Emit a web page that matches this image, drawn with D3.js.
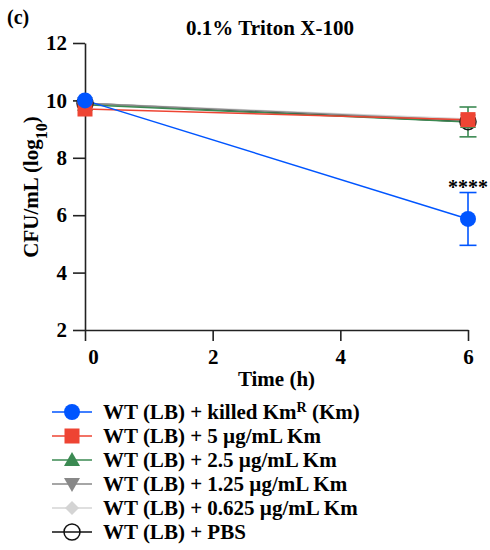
<!DOCTYPE html>
<html><head><meta charset="utf-8">
<script src="https://cdn.jsdelivr.net/npm/d3@7"></script>
<style>
body{margin:0;background:#fff;}
text{font-family:"Liberation Serif","Times New Roman",serif;font-weight:bold;fill:#000;}
</style></head>
<body><svg id="c" width="490" height="550"></svg>
<script>
const times = [0, 6];
const seriesNames = ["WT (LB) + killed KmR (Km)", "WT (LB) + 5 µg/mL Km", "WT (LB) + 2.5 µg/mL Km", "WT (LB) + 1.25 µg/mL Km", "WT (LB) + 0.625 µg/mL Km", "WT (LB) + PBS"];
const killedMean = [10.0, 5.87];
const killedErr = [0, 0.92];
const km5Mean = [9.7, 9.33];
const km5Err = [0, 0];
const km25Mean = [9.85, 9.25];
const km25Err = [0, 0.52];
const km125Mean = [9.9, 9.3];
const km125Err = [0, 0];
const km0625Mean = [9.9, 9.35];
const km0625Err = [0, 0];
const pbsMean = [9.9, 9.26];
const pbsErr = [0, 0];
const xTicks = [0, 2, 4, 6];
const yTicks = [2, 4, 6, 8, 10, 12];

const series = [
  {name: seriesNames[0], mean: killedMean, err: killedErr, color: "#0055ff", shape: "circle", fill: "#0055ff"},
  {name: seriesNames[1], mean: km5Mean, err: km5Err, color: "#ee4433", shape: "square", fill: "#ee4433"},
  {name: seriesNames[2], mean: km25Mean, err: km25Err, color: "#3b8a52", shape: "triangle", fill: "#3b8a52"},
  {name: seriesNames[3], mean: km125Mean, err: km125Err, color: "#888888", shape: "triangleDown", fill: "#888888"},
  {name: seriesNames[4], mean: km0625Mean, err: km0625Err, color: "#d4d4d4", shape: "diamond", fill: "#d4d4d4"},
  {name: seriesNames[5], mean: pbsMean, err: pbsErr, color: "#111111", shape: "open", fill: "none"}
];

const svg = d3.select("#c");
const x = d3.scaleLinear().domain([0, 6]).range([85, 468]);
const y = d3.scaleLinear().domain([2, 12]).range([330, 43]);

function marker(g, shape, color, fill) {
  if (shape === "circle") g.append("circle").attr("r", 8).attr("fill", fill).attr("stroke", "none");
  else if (shape === "open") g.append("circle").attr("r", 8).attr("fill", "none").attr("stroke", color).attr("stroke-width", 1.5);
  else if (shape === "square") g.append("rect").attr("x", -7.5).attr("y", -7.5).attr("width", 15).attr("height", 15).attr("fill", fill);
  else if (shape === "triangle") g.append("path").attr("d", "M0,-8L8,6L-8,6Z").attr("fill", fill);
  else if (shape === "triangleDown") g.append("path").attr("d", "M0,8L8,-6L-8,-6Z").attr("fill", fill);
  else if (shape === "diamond") g.append("path").attr("d", "M0,-7L7,0L0,7L-7,0Z").attr("fill", fill);
}

// axes
const xAxis = d3.axisBottom(x).tickValues(xTicks).tickFormat(d3.format("d")).tickSize(11).tickSizeOuter(0).tickPadding(8);
const gx = svg.append("g").attr("transform", "translate(0,330)").call(xAxis);
const yAxis = d3.axisLeft(y).tickValues(yTicks).tickFormat(d3.format("d")).tickSize(12).tickSizeOuter(0).tickPadding(6);
const gy = svg.append("g").attr("transform", "translate(85,0)").call(yAxis);
[gx, gy].forEach(g => {
  g.selectAll("path,line").attr("stroke", "#222").attr("stroke-width", 1.6);
  g.selectAll("text").style("font-size", "21px").style("font-family", "Liberation Serif, serif").style("font-weight", "bold").attr("fill", "#000");
});
gx.selectAll(".tick text").filter(d => d === 0).attr("dx", 8);

// series drawn back to front
const line = d3.line().x((d, i) => x(times[i])).y(d => y(d));
const drawOrder = series.slice().reverse();
drawOrder.forEach(s => {
  svg.append("path").datum(s.mean).attr("d", line).attr("fill", "none").attr("stroke", s.color).attr("stroke-width", 1.5);
});
drawOrder.forEach(s => {
  s.mean.forEach((m, i) => {
    const e = s.err[i];
    if (e > 0) {
      const cx = x(times[i]);
      const eg = svg.append("g").attr("stroke", s.color).attr("stroke-width", 1.6);
      eg.append("line").attr("x1", cx).attr("x2", cx).attr("y1", y(m + e)).attr("y2", y(m - e));
      eg.append("line").attr("x1", cx - 8.5).attr("x2", cx + 8.5).attr("y1", y(m + e)).attr("y2", y(m + e));
      eg.append("line").attr("x1", cx - 8.5).attr("x2", cx + 8.5).attr("y1", y(m - e)).attr("y2", y(m - e));
    }
  });
});
drawOrder.forEach(s => {
  s.mean.forEach((m, i) => {
    const g = svg.append("g").attr("transform", `translate(${x(times[i])},${y(m)})`);
    marker(g, s.shape, s.color, s.fill);
  });
});

// significance
svg.append("text").attr("x", x(6)).attr("y", y(killedMean[1] + killedErr[1]) + 1).attr("text-anchor", "middle").style("font-size", "20px").text("****");

// titles
svg.append("text").attr("x", 7).attr("y", 24).style("font-size", "20px").text("(c)");
svg.append("text").attr("x", 270).attr("y", 35).attr("text-anchor", "middle").style("font-size", "21px").text("0.1% Triton X-100");
svg.append("text").attr("x", 276.5).attr("y", 386).attr("text-anchor", "middle").style("font-size", "21px").text("Time (h)");
const yl = svg.append("text").attr("transform", "translate(38,187) rotate(-90)").attr("text-anchor", "middle").style("font-size", "21px");
yl.append("tspan").text("CFU/mL (log");
yl.append("tspan").attr("baseline-shift", "sub").style("font-size", "16px").text("10");
yl.append("tspan").text(")");

// legend
const legY = [412, 436, 460, 484, 508, 532];
series.forEach((s, i) => {
  const g = svg.append("g").attr("transform", `translate(0,${legY[i]})`);
  g.append("line").attr("x1", 52).attr("x2", 92).attr("stroke", s.color).attr("stroke-width", 1.5);
  const mg = g.append("g").attr("transform", "translate(72,0)");
  marker(mg, s.shape, s.color, s.fill);
  const t = g.append("text").attr("x", 103).attr("y", 7).style("font-size", "21px");
  if (i === 0) {
    t.append("tspan").text("WT (LB) + killed Km");
    t.append("tspan").attr("baseline-shift", "super").style("font-size", "14px").text("R");
    t.append("tspan").text(" (Km)");
  } else {
    t.text(s.name);
  }
});
</script></body></html>
